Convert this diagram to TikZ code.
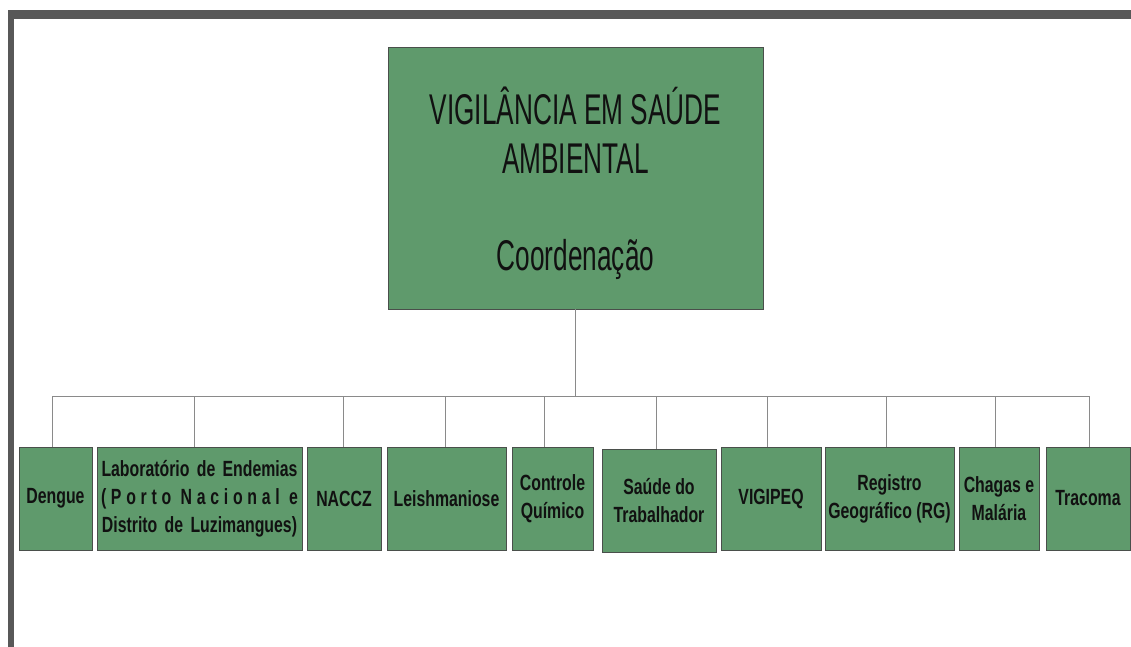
\documentclass[tikz,border=0pt]{standalone}
\usepackage{fontspec}
\setmainfont{Liberation Sans}
\newfontfamily\titlefont[FakeStretch=0.61]{Liberation Sans}
\newfontfamily\boxfont[FakeStretch=0.72]{Liberation Sans}
\definecolor{boxgreen}{HTML}{5F9A6C}
\definecolor{boxedge}{HTML}{4A4F4B}
\definecolor{framegray}{HTML}{585858}
\definecolor{linegray}{HTML}{8A8A8A}
\definecolor{textdark}{HTML}{111111}
\tikzset{
  x=1pt, y=-1pt,
  topbox/.style={draw=boxedge, line width=0.6pt, fill=boxgreen, inner sep=0pt,
    minimum width=375pt, minimum height=262pt},
  toptextstyle/.style={align=center, text=textdark, inner sep=0pt,
    font=\titlefont\fontsize{43}{49}\selectfont},
  unitbox/.style={draw=boxedge, line width=0.8pt, fill=boxgreen, inner sep=0pt,
    minimum height=103pt, align=center, text=textdark,
    font=\boxfont\bfseries\fontsize{22}{28}\selectfont},
  conn/.style={draw=linegray, line width=0.9pt}
}
\begin{document}
\begin{tikzpicture}
\useasboundingbox (0,0) rectangle (1131,647);
% frame
\fill[framegray] (8,10) rectangle (1131,19);
\fill[framegray] (8,10) rectangle (14,647);
% top box
\node[topbox] (top) at (575.5,178) {};
\node[toptextstyle] (toptext) at (575.5,183) {VIGILÂNCIA EM SAÚDE\\AMBIENTAL\\[48pt]Coordenação};
% units
\node[unitbox, minimum width=73pt] (dengue) at (55.5,498.5) {Dengue};
\node[unitbox, minimum width=205pt, text width=205pt] (lab) at (199.5,498.5)
  {Laboratório de Endemias\\\makebox[197pt][s]{(\hfill P\hfill o\hfill r\hfill t\hfill o\hfill\hfill N\hfill a\hfill c\hfill i\hfill o\hfill n\hfill a\hfill l\hfill\hfill e}\\Distrito de Luzimangues)};
\node[unitbox, minimum width=74pt] (naccz) at (344,498.5) {NACCZ};
\node[unitbox, minimum width=119pt] (leish) at (446.5,498.5) {Leishmaniose};
\node[unitbox, minimum width=81pt] (ctrl) at (552.5,498.5) {Controle\\Químico};
\node[unitbox, minimum width=114pt] (saude) at (659,500.5) {Saúde do\\Trabalhador};
\node[unitbox, minimum width=100pt] (vigipeq) at (771,498.5) {VIGIPEQ};
\node[unitbox, minimum width=129pt] (rg) at (889.5,498.5) {Registro\\Geográfico (RG)};
\node[unitbox, minimum width=80pt] (chagas) at (999,498.5) {Chagas e\\Malária};
\node[unitbox, minimum width=84pt] (tracoma) at (1088,498.5) {Tracoma};
% connectors
\draw[conn] (top.south) |- ([xshift=-3.5pt,yshift=50pt]dengue.north) -- ([xshift=-3.5pt]dengue.north);
\draw[conn] (top.south) |- ([xshift=-5.5pt,yshift=50pt]lab.north) -- ([xshift=-5.5pt]lab.north);
\draw[conn] (top.south) |- ([xshift=-1pt,yshift=50pt]naccz.north) -- ([xshift=-1pt]naccz.north);
\draw[conn] (top.south) |- ([xshift=-1.5pt,yshift=50pt]leish.north) -- ([xshift=-1.5pt]leish.north);
\draw[conn] (top.south) |- ([xshift=-8.5pt,yshift=50pt]ctrl.north) -- ([xshift=-8.5pt]ctrl.north);
\draw[conn] (top.south) |- ([xshift=-3pt,yshift=52pt]saude.north) -- ([xshift=-3pt]saude.north);
\draw[conn] (top.south) |- ([xshift=-4pt,yshift=50pt]vigipeq.north) -- ([xshift=-4pt]vigipeq.north);
\draw[conn] (top.south) |- ([xshift=-3.5pt,yshift=50pt]rg.north) -- ([xshift=-3.5pt]rg.north);
\draw[conn] (top.south) |- ([xshift=-4pt,yshift=50pt]chagas.north) -- ([xshift=-4pt]chagas.north);
\draw[conn] (top.south) |- ([xshift=1pt,yshift=50pt]tracoma.north) -- ([xshift=1pt]tracoma.north);
\end{tikzpicture}
\end{document}
